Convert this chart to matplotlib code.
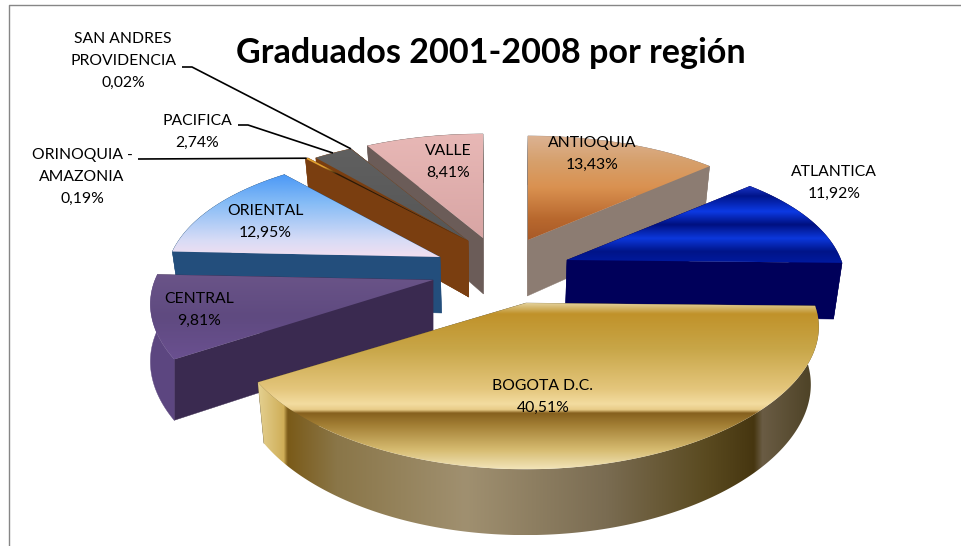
import numpy as np
import matplotlib
matplotlib.use("Agg")
import matplotlib.pyplot as plt
from matplotlib.colors import LinearSegmentedColormap
from matplotlib.patches import Polygon

# ---- data ----
regions = ["ANTIOQUIA", "ATLANTICA", "BOGOTA D.C.", "CENTRAL", "ORIENTAL",
           "ORINOQUIA -\nAMAZONIA", "PACIFICA", "SAN ANDRES\nPROVIDENCIA", "VALLE"]
shares = [13.43, 11.92, 40.51, 9.81, 12.95, 0.19, 2.74, 0.02, 8.41]
title = "Graduados 2001-2008 por región"

# ---- layout of the pie ----
centre = (497, 272)
explode_x = [31, 70, 29, -64, -57, -29, -29, -29, -14]
explode_y = [-32, -12, 31, 8, -15, -31, -31, -31, -34]
radius = [272, 274, 288, 278, 270, 282, 268, 268, 265]
shrink = [.975, .975, .975, 1.0, .975, .975, .975, .975, .975]
label_x = [592, 834, 543, 199, 265, 82, 197, 123, 448]
label_y = [154, 183, 397, 310, 222, 177, 132, 61, 162]
draw_order = [8, 0, 7, 6, 5, 1, 4, 3, 2]
K_Y, P_X, P_Y, DEPTH, P_D, VANISH = 128, 0.18, 0.23, 56, 0.15, 500

# ---- styles: (fraction along the bbox, colour) ----
top_fill = [
    [(0, "#dcb394"), (.25, "#d6a06c"), (.5, "#da9150"), (.8, "#b8682e"), (1, "#a85a28")],
    [(0, "#1a36c8"), (.13, "#00148a"), (.33, "#0c3ae4"), (.5, "#001080"),
     (.68, "#0c38dc"), (.85, "#001488"), (1, "#001aa0")],
    [(0, "#e6d6a4"), (.07, "#c0922a"), (.28, "#c8a648"), (.52, "#e4c67c"), (.61, "#f3dca0"),
     (.645, "#e8cc88"), (.665, "#86601e"), (.735, "#a27e34"), (.885, "#d6bb70"), (1, "#f2e4b8")],
    [(0, "#6a5488"), (.5, "#5f4a80"), (1, "#6a5090")],
    [(0, "#4a98f6"), (.35, "#86bcf6"), (.8, "#d8dcf6"), (1, "#f2dff0")],
    [(0, "#e0a030"), (.12, "#e0a030"), (.2, "#2a1a08"), (1, "#2a1a08")],
    [(0, "#606060"), (1, "#565656")],
    [(0, "#707070"), (1, "#707070")],
    [(0, "#e8b8b6"), (1, "#d8a5a4")],
]
wall_fill = ["#8c7c72", "#00005a", "#6a5a30", "#3a2a50", "#234e7c", "#7a3e10", "#7a3e10", "#6a5a55", "#6b5c58"]
outer_fill = ["#8c7c72", "#00005a", None, "#5c4680", "#234e7c", "#7a3e10", "#7a3e10", "#6a5a55", "#6b5c58"]
bogota_wall = [(0, "#e4d090"), (.045, "#cfae58"), (.052, "#7a5a18"), (.14, "#8a7648"), (.37, "#a09070"),
               (.62, "#7a6c52"), (.8, "#5a4a20"), (.885, "#463610"), (.9, "#6a5c44"), (1, "#4a3f22")]

fig = plt.figure(figsize=(9.61, 5.46), dpi=100, facecolor="white")
ax = fig.add_axes([0, 0, 1, 1])


def project(theta, r, ox, oy, low=None):
    """Clockwise angle from the top -> picture position, with perspective.
    r = 0 gives the wedge's apex; low = shrink factor for the lower rim."""
    theta = np.asarray(theta, float)
    u, v = np.sin(theta), np.cos(theta)
    rim = 1.0 if r > 0 else 0.0
    x = centre[0] + ox + r * u / (1 + P_X * v)
    y = centre[1] + oy - rim * K_Y * v / (1 + P_Y * v)
    if low is not None:
        y = y + DEPTH / (1 + P_D * v * rim)
        x = VANISH + (x - VANISH) * low
    return np.column_stack([x, y])


def gradient(pts, stops, horizontal=False, zorder=1):
    (x0, y0), (x1, y1) = pts.min(axis=0), pts.max(axis=0)
    cmap = LinearSegmentedColormap.from_list("g", stops, N=512)
    ramp = np.linspace(0, 1, 512)
    ramp = ramp[None, :] if horizontal else ramp[:, None]
    im = ax.imshow(ramp, cmap=cmap, vmin=0, vmax=1, extent=[x0, x1, y1, y0],
                   aspect="auto", interpolation="bilinear", zorder=zorder)
    im.set_clip_path(Polygon(pts, closed=True, transform=ax.transData))


edges = np.deg2rad(np.concatenate([[0], np.cumsum(shares) / np.sum(shares) * 360]))

z = 1
for i in draw_order:
    a0, a1 = edges[i], edges[i + 1]
    ox, oy, r = explode_x[i], explode_y[i], radius[i]
    arc = np.linspace(a0, a1, max(int(np.degrees(a1 - a0) * 2), 3))
    apex_t = project([0.0], 0.0, ox, oy)
    apex_b = project([0.0], 0.0, ox, oy, low=shrink[i])
    arc_t = project(arc, r, ox, oy)
    arc_b = project(arc, r, ox, oy, low=shrink[i])
    # radial walls, farther one first
    walls = sorted([(a0, 0), (a1, -1)], key=lambda w: project([w[0]], r, ox, oy)[0, 1])
    for _, k in walls:
        quad = np.vstack([apex_t, arc_t[k], arc_b[k], apex_b])
        ax.add_patch(Polygon(quad, closed=True, fc=wall_fill[i], ec=wall_fill[i], lw=0.3, zorder=z))
        z += 1
    # outer wall
    outer = np.vstack([arc_t, arc_b[::-1]])
    if outer_fill[i] is None:
        gradient(outer, bogota_wall, horizontal=True, zorder=z)
    else:
        ax.add_patch(Polygon(outer, closed=True, fc=outer_fill[i], ec=outer_fill[i], lw=0.3, zorder=z))
    z += 1
    # top face
    gradient(np.vstack([apex_t, arc_t]), top_fill[i], zorder=z)
    z += 1

# ---- leader lines: from label to the rim of each small slice ----
leader_start = {5: (138, 159), 6: (238, 125), 7: (182, 67)}
leader_knee = {5: None, 6: (248, 125), 7: (192, 67)}
for i, start in leader_start.items():
    mid = (edges[i] + edges[i + 1]) / 2
    tip = project([mid], radius[i], explode_x[i], explode_y[i])[0]
    pts = [start] + ([leader_knee[i]] if leader_knee[i] else []) + [tuple(tip)]
    xs, ys = zip(*pts)
    ax.plot(xs, ys, color="black", lw=1.2, zorder=z, solid_capstyle="butt")
z += 1

# ---- text ----
for name, val, lx, ly in zip(regions, shares, label_x, label_y):
    txt = name + "\n" + f"{val:.2f}".replace(".", ",") + "%"
    ax.text(lx, ly, txt, ha="center", va="center", fontsize=11.3, family="Lato",
            color="black", linespacing=1.72, zorder=z)
ax.text(490.5, 53, title, ha="center", va="center", fontsize=24.6, family="Lato",
        fontweight="bold", color="black", zorder=z)

# ---- chart frame ----
ax.plot([8.5, 8.5, 961], [546, 4.5, 4.5], color="#868686", lw=1.0, zorder=z)

ax.set_xlim(0, 961)
ax.set_ylim(546, 0)
ax.axis("off")
fig.savefig("out.png", dpi=100, facecolor="white")
